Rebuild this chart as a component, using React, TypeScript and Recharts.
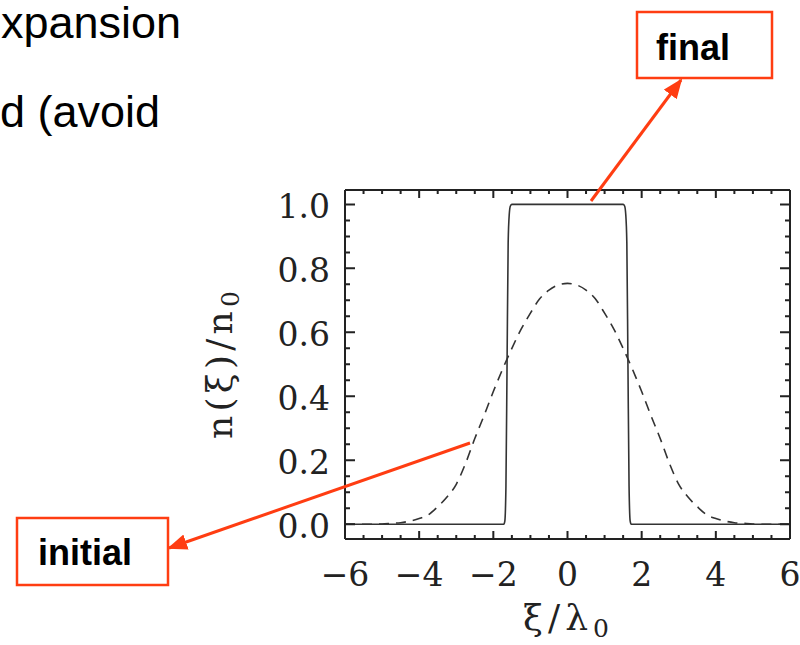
import React from "react";
import { LineChart, Line, XAxis, YAxis } from "recharts";

// initial (dashed) profile n(xi)/n0
const INITIAL_X = [-6, -5.5, -5, -4.75, -4.5, -4.25, -4, -3.75, -3.5, -3.25, -3, -2.75, -2.5, -2.25, -2, -1.75, -1.5, -1.25, -1, -0.75, -0.5, -0.25, 0, 0.25, 0.5, 0.75, 1, 1.25, 1.5, 1.75, 2, 2.25, 2.5, 2.75, 3, 3.25, 3.5, 3.75, 4, 4.25, 4.5, 4.75, 5, 5.5, 6];
const INITIAL_N = [0, 0, 0.001, 0.003, 0.005, 0.01, 0.018, 0.03, 0.055, 0.085, 0.125, 0.19, 0.268, 0.34, 0.415, 0.485, 0.55, 0.61, 0.66, 0.705, 0.732, 0.748, 0.753, 0.748, 0.732, 0.705, 0.66, 0.61, 0.55, 0.485, 0.415, 0.34, 0.268, 0.19, 0.125, 0.085, 0.055, 0.03, 0.018, 0.01, 0.005, 0.003, 0.001, 0, 0];

// final (solid) profile: flat top with steep edges
const FINAL_X = [-6, -1.72, -1.69, -1.66, -1.63, -1.6, -1.57, -1.54, -1.5, -1.45, 1.45, 1.5, 1.54, 1.57, 1.6, 1.63, 1.66, 1.69, 1.72, 6];
const FINAL_N = [0, 0, 0.01, 0.12, 0.5, 0.88, 0.97, 0.995, 1, 1, 1, 1, 0.995, 0.97, 0.88, 0.5, 0.12, 0.01, 0, 0];

const X_MAJOR = [-6, -4, -2, 0, 2, 4, 6];
const X_MINOR = [-5.5, -5, -4.5, -3.5, -3, -2.5, -1.5, -1, -0.5, 0.5, 1, 1.5, 2.5, 3, 3.5, 4.5, 5, 5.5];
const Y_MAJOR = [0, 0.2, 0.4, 0.6, 0.8, 1.0];
const Y_MINOR = [0.05, 0.1, 0.15, 0.25, 0.3, 0.35, 0.45, 0.5, 0.55, 0.65, 0.7, 0.75, 0.85, 0.9, 0.95];

const initialRows = INITIAL_X.map((x, i) => ({ x, n: INITIAL_N[i] }));
const finalRows = FINAL_X.map((x, i) => ({ x, n: FINAL_N[i] }));

const INK = "#222";
const RED = "#ff3d12";
const MATH_FONT = "'DejaVu Serif', serif";
const SANS = "'Liberation Sans', Arial, sans-serif";
const X_DOMAIN: [number, number] = [-6, 6];
const Y_DOMAIN: [number, number] = [-0.046, 1.045];

// plot box inside the 800x645 chart
const PLOT = { left: 345, top: 190, width: 445, height: 349 };
const MARGIN = { top: PLOT.top - 1, right: 800 - PLOT.left - PLOT.width - 1, bottom: 645 - PLOT.top - PLOT.height - 40, left: PLOT.left - 100 };

const noLabel = () => <g />;

function XLabel(props: any) {
  const v = props.payload.value;
  const label = v < 0 ? "\u2212" + Math.abs(v) : String(v);
  return (
    <text x={props.x} y={Number(props.y) + 35} textAnchor="middle" dominantBaseline="central" fontFamily={MATH_FONT} fontSize={33} fill="#222">
      {label}
    </text>
  );
}

function YLabel(props: any) {
  const v = props.payload.value;
  return (
    <text x={Number(props.x) - 15} y={Number(props.y) + 2} textAnchor="end" dominantBaseline="central" fontFamily={MATH_FONT} fontSize={33} fill="#222">
      {v.toFixed(1)}
    </text>
  );
}

// inward IDL-style ticks on all four sides of the frame
function FrameTicks() {
  const sx = (v: number) => PLOT.left + ((v - X_DOMAIN[0]) / (X_DOMAIN[1] - X_DOMAIN[0])) * PLOT.width;
  const sy = (v: number) => PLOT.top + ((Y_DOMAIN[1] - v) / (Y_DOMAIN[1] - Y_DOMAIN[0])) * PLOT.height;
  const bottom = PLOT.top + PLOT.height;
  const right = PLOT.left + PLOT.width;
  const parts: string[] = [];
  const xt = (v: number, len: number) => {
    const x = sx(v);
    parts.push(`M${x},${bottom}v${-len}M${x},${PLOT.top}v${len}`);
  };
  const yt = (v: number, len: number) => {
    const y = sy(v);
    parts.push(`M${PLOT.left},${y}h${len}M${right},${y}h${-len}`);
  };
  X_MAJOR.forEach((v) => xt(v, 8));
  X_MINOR.forEach((v) => xt(v, 4));
  Y_MAJOR.forEach((v) => yt(v, 10));
  Y_MINOR.forEach((v) => yt(v, 5));
  return <path d={parts.join("")} stroke={INK} strokeWidth={2} fill="none" />;
}

export default function App() {
  const axisLine = { stroke: INK, strokeWidth: 2 };
  const xCommon = { dataKey: "x", type: "number" as const, domain: X_DOMAIN, allowDataOverflow: true, interval: 0 as const, tickLine: false, tickSize: 0, tickMargin: 0 };
  const yCommon = { type: "number" as const, domain: Y_DOMAIN, allowDataOverflow: true, interval: 0 as const, tickLine: false, tickSize: 0, tickMargin: 0 };
  return (
    <div style={{ position: "absolute", left: 0, top: 0, width: 800, height: 645, background: "#fff", overflow: "hidden" }}>
      <LineChart width={800} height={645} margin={MARGIN}>
        <XAxis xAxisId="b" {...xCommon} ticks={X_MAJOR} height={40} axisLine={axisLine} tick={(p: any) => <XLabel {...p} />} />
        <XAxis xAxisId="t" orientation="top" {...xCommon} ticks={X_MAJOR} height={1} axisLine={axisLine} tick={noLabel} />
        <YAxis yAxisId="l" {...yCommon} ticks={Y_MAJOR} width={100} axisLine={axisLine} tick={(p: any) => <YLabel {...p} />} />
        <YAxis yAxisId="r" orientation="right" {...yCommon} ticks={Y_MAJOR} width={1} axisLine={axisLine} tick={noLabel} />

        <Line xAxisId="b" yAxisId="l" data={initialRows} dataKey="n" type="monotone" stroke="#333" strokeWidth={1.6}
          strokeDasharray="10 7" dot={false} activeDot={false} isAnimationActive={false} />
        <Line xAxisId="b" yAxisId="l" data={finalRows} dataKey="n" type="monotone" stroke="#333" strokeWidth={1.6}
          dot={false} activeDot={false} isAnimationActive={false} />
      </LineChart>

      {/* frame ticks, slide text, axis titles and the red call-outs */}
      <svg width={800} height={645} style={{ position: "absolute", left: 0, top: 0, pointerEvents: "none" }}>
        <defs>
          <marker id="head" markerUnits="userSpaceOnUse" markerWidth={20} markerHeight={16} refX={18} refY={8} orient="auto">
            <path d="M0,0 L20,8 L0,16 z" fill={RED} />
          </marker>
        </defs>
        <FrameTicks />

        <text x={1} y={38} fontFamily={SANS} fontSize={45} fill="#000">xpansion</text>
        <text x={0} y={127} fontFamily={SANS} fontSize={45} fill="#000">d (avoid</text>

        <text transform="translate(232,365) rotate(-90)" textAnchor="middle" fontFamily={MATH_FONT} fontSize={36} fill="#222"
          textLength={148} lengthAdjust="spacing">
          n(ξ)/n<tspan dy={7} fontSize={25}>0</tspan>
        </text>
        <text x={566} y={630} textAnchor="middle" fontFamily={MATH_FONT} fontSize={36} fill="#222"
          textLength={86} lengthAdjust="spacing">
          ξ/λ<tspan dy={7} fontSize={25}>0</tspan>
        </text>

        <rect x={637} y={12} width={135} height={66} fill="#fff" stroke={RED} strokeWidth={2.5} />
        <text x={656} y={60} fontFamily={SANS} fontWeight="bold" fontSize={36} fill="#000">final</text>
        <line x1={591} y1={201} x2={681} y2={80} stroke={RED} strokeWidth={3} markerEnd="url(#head)" />

        <rect x={17} y={518} width={151} height={67} fill="#fff" stroke={RED} strokeWidth={2.5} />
        <text x={38} y={565} fontFamily={SANS} fontWeight="bold" fontSize={36} fill="#000">initial</text>
        <line x1={470} y1={443} x2={169} y2={548} stroke={RED} strokeWidth={3} markerEnd="url(#head)" />
      </svg>
    </div>
  );
}
